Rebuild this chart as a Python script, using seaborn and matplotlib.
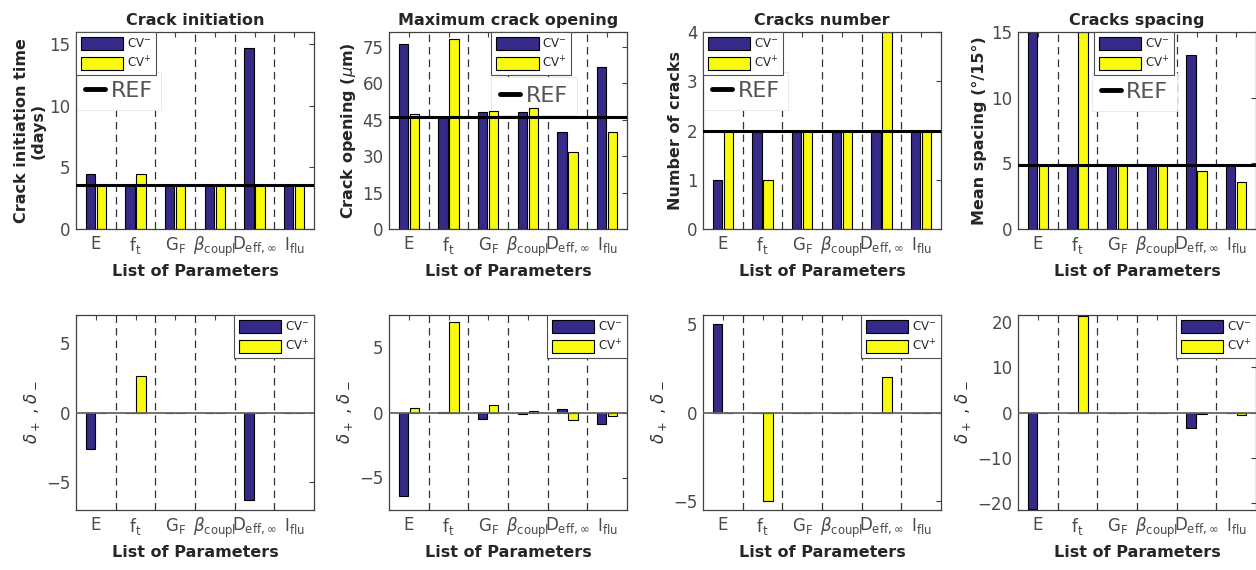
import numpy as np
import pandas as pd
import matplotlib
matplotlib.use("Agg")
import matplotlib.pyplot as plt
from matplotlib.lines import Line2D
import seaborn as sns

# ---- categories -------------------------------------------------------------
params = ["E", r"$\mathregular{f_t}$", r"$\mathregular{G_F}$",
          r"$\beta_{\mathregular{coupl}}$", r"$\mathregular{D_{eff,\infty}}$",
          r"$\mathregular{I_{flu}}$"]
cases = [r"CV$^{-}$", r"CV$^{+}$"]

# ---- top row: absolute responses ---------------------------------------------
init_minus = [4.45, 3.6, 3.6, 3.6, 14.7, 3.6]
init_plus = [3.6, 4.45, 3.6, 3.6, 3.6, 3.6]
init_ref = 3.6

open_minus = [76.2, 46.0, 48.3, 48.3, 39.8, 66.8]
open_plus = [47.4, 78.0, 48.7, 49.7, 31.5, 39.9]
open_ref = 46.0

num_minus = [1, 2, 2, 2, 2, 2]
num_plus = [2, 1, 2, 2, 4, 2]
num_ref = 2

spacing_minus = [15.0, 4.85, 4.85, 4.85, 13.25, 4.85]
spacing_plus = [4.85, 15.0, 4.85, 4.85, 4.45, 3.6]
spacing_ref = 4.85

# ---- bottom row: sensitivity indices -----------------------------------------
d_init_minus = [-2.6, 0.0, 0.0, 0.0, -6.25, 0.0]
d_init_plus = [0.0, 2.6, 0.0, 0.0, 0.0, 0.0]

d_open_minus = [-6.45, 0.05, -0.48, -0.1, 0.25, -0.87]
d_open_plus = [0.33, 6.95, 0.58, 0.15, -0.55, -0.25]

d_num_minus = [5.0, 0.0, 0.0, 0.0, 0.0, 0.0]
d_num_plus = [0.0, -5.0, 0.0, 0.0, 2.0, 0.0]

d_spacing_minus = [-21.3, 0.0, 0.0, 0.0, -3.4, 0.0]
d_spacing_plus = [0.0, 21.3, 0.0, 0.0, -0.25, -0.6]

titles = ["Crack initiation", "Maximum crack opening", "Cracks number", "Cracks spacing"]
ylabels = ["Crack initiation time\n(days)", r"Crack opening ($\mu$m)",
           "Number of cracks", r"Mean spacing (°/15°)"]

BLUE = "#352A87"
YELLOW = "#F9FB0E"
AXCOL = "#404040"

sns.set_style("white")
plt.rcParams["font.family"] = ["DejaVu Sans"]
plt.rcParams["mathtext.fontset"] = "dejavusans"

fig = plt.figure(figsize=(12.56, 5.70), dpi=100)
W, H = 1256.0, 570.0
lefts = [76, 389, 703, 1018]
width_px = 238
top_row = (32, 229)
bot_row = (315, 510)


def make_ax(left, rows):
    t, b = rows
    return fig.add_axes([left / W, 1 - b / H, width_px / W, (b - t) / H])


def frame(df_minus, df_plus):
    return pd.DataFrame({
        "param": params * 2,
        "case": [cases[0]] * len(params) + [cases[1]] * len(params),
        "value": list(df_minus) + list(df_plus),
    })


def draw(ax, minus, plus, ylim, yticks):
    df = frame(minus, plus)
    for k in range(len(params) - 1):
        ax.axvline(k + 0.5, color="#333333", lw=0.9, dashes=(6, 4), zorder=0)
    sns.barplot(data=df, x="param", y="value", hue="case", order=params,
                hue_order=cases, palette=[BLUE, YELLOW], saturation=1,
                width=0.56, gap=0.18, edgecolor="black", linewidth=0.8,
                errorbar=None, ax=ax, zorder=2)
    ax.set_xlim(-0.5, len(params) - 0.5)
    ax.set_ylim(*ylim)
    ax.set_yticks(yticks)
    ax.tick_params(direction="in", length=3.5, top=True, right=True,
                   labelsize=12, colors=AXCOL, labelcolor="#4a4a4a", pad=4)
    for s in ax.spines.values():
        s.set_color(AXCOL)
        s.set_linewidth(0.9)
    ax.set_xlabel("List of Parameters", fontsize=11.5, fontweight="bold",
                  color="#262626", labelpad=4)
    handles, labels = ax.get_legend_handles_labels()
    if ax.get_legend() is not None:
        ax.get_legend().remove()
    return handles, labels


def cv_legend(ax, handles, labels, loc, anchor):
    leg = ax.legend(handles, labels, loc=loc, bbox_to_anchor=anchor,
                    borderaxespad=0, fontsize=8.5, handlelength=3.6,
                    handleheight=1.3, handletextpad=0.3, labelspacing=0.4,
                    borderpad=0.4, fancybox=False, framealpha=1,
                    edgecolor="#505050")
    leg.get_frame().set_linewidth(0.8)
    leg.set_zorder(10)
    return leg


top_data = [
    (init_minus, init_plus, init_ref, (0, 16), [0, 5, 10, 15], 0.0, (0.0, 0.795)),
    (open_minus, open_plus, open_ref, (0, 81), [0, 15, 30, 45, 60, 75], 0.43, (0.43, 0.77)),
    (num_minus, num_plus, num_ref, (0, 4), [0, 1, 2, 3, 4], 0.0, (0.0, 0.795)),
    (spacing_minus, spacing_plus, spacing_ref, (0, 15), [0, 5, 10, 15], 0.32, (0.31, 0.79)),
]

for i, (mn, pl, ref, ylim, yt, lx, refpos) in enumerate(top_data):
    ax = make_ax(lefts[i], top_row)
    h, l = draw(ax, mn, pl, ylim, yt)
    ax.axhline(ref, color="black", lw=2.2, zorder=5)
    ax.set_title(titles[i], fontsize=11.5, fontweight="bold", pad=5)
    ax.set_ylabel(ylabels[i], fontsize=11.5, fontweight="bold",
                  color="#262626", labelpad=3, linespacing=1.1)
    leg1 = cv_legend(ax, h, l, "upper left", (lx, 1.0))
    ax.add_artist(leg1)
    ref_handle = Line2D([], [], color="black", lw=3.5)
    leg2 = ax.legend([ref_handle], ["REF"], loc="upper left",
                     bbox_to_anchor=refpos, borderaxespad=0, fontsize=16,
                     handlelength=0.9, handletextpad=0.25, borderpad=0.4,
                     fancybox=False, framealpha=1, edgecolor="#e6e6e6",
                     labelcolor="#555555")
    leg2.get_frame().set_linewidth(0.6)
    # white box masks the dashed separators but stays beneath the bars
    leg2.set_zorder(1)

bot_data = [
    (d_init_minus, d_init_plus, (-7, 7), [-5, 0, 5]),
    (d_open_minus, d_open_plus, (-7.5, 7.5), [-5, 0, 5]),
    (d_num_minus, d_num_plus, (-5.5, 5.5), [-5, 0, 5]),
    (d_spacing_minus, d_spacing_plus, (-21.5, 21.5), [-20, -10, 0, 10, 20]),
]

for i, (mn, pl, ylim, yt) in enumerate(bot_data):
    ax = make_ax(lefts[i], bot_row)
    h, l = draw(ax, mn, pl, ylim, yt)
    ax.axhline(0, color="#666666", lw=1.3, zorder=5)
    ax.set_ylabel(r"$\delta_+$ , $\delta_-$", fontsize=12, color="#333333",
                  labelpad=3)
    cv_legend(ax, h, l, "upper right", (1.0, 1.0))

fig.savefig("out.png", dpi=100)
